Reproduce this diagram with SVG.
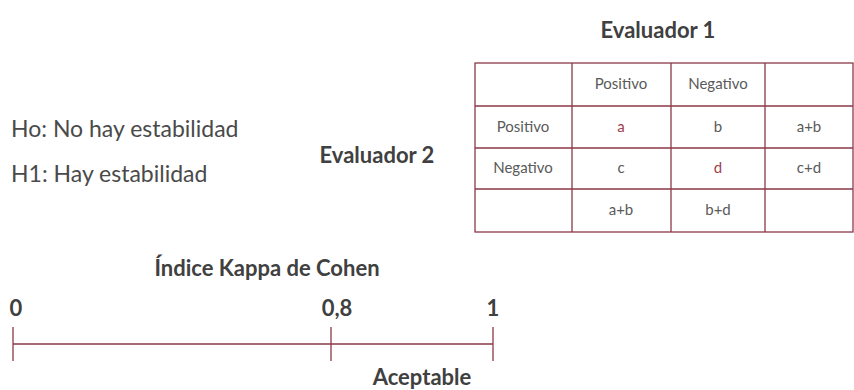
<svg xmlns="http://www.w3.org/2000/svg" width="854" height="390" viewBox="0 0 854 390">
<style>
text{font-family:Lato,"Open Sans","Liberation Sans",sans-serif;fill:#404040}
.b{font-weight:bold}
.t{font-size:22px}
.h{font-size:23px;fill:#4a4a4a}
.c{font-size:15px;fill:#5a5a5a;text-anchor:middle}
.r{fill:#a0404f}
.ln{stroke:#8b3a48;stroke-width:1.3;fill:none}
</style>
<rect width="854" height="390" fill="#fff"/>
<g id="evaluador1"><text class="b t" x="658" y="38" text-anchor="middle">Evaluador 1</text></g>
<g id="hypotheses">
<text class="h" x="11" y="137">Ho: No hay estabilidad</text>
<text class="h" x="11" y="182">H1: Hay estabilidad</text>
</g>
<g id="evaluador2"><text class="b t" x="377" y="163" text-anchor="middle">Evaluador 2</text></g>
<g id="table">
<rect class="ln" x="475" y="63" width="378" height="169"/>
<path class="ln" d="M572 63V232M671 63V232M765 63V232M475 106H853M475 148H853M475 189H853"/>
<text class="c" x="523" y="132">Positivo</text>
<text class="c" x="523" y="173">Negativo</text>
<text class="c" x="621" y="89">Positivo</text>
<text class="c" x="718" y="89">Negativo</text>
<text class="c r" x="621" y="132">a</text>
<text class="c" x="718" y="132">b</text>
<text class="c" x="809" y="132">a+b</text>
<text class="c" x="621" y="173">c</text>
<text class="c r" x="718" y="173">d</text>
<text class="c" x="809" y="173">c+d</text>
<text class="c" x="621" y="215">a+b</text>
<text class="c" x="718" y="215">b+d</text>
</g>
<g id="kappa">
<text class="b t" x="267" y="276" text-anchor="middle">Índice Kappa de Cohen</text>
<text class="b t" x="16" y="316" text-anchor="middle">0</text>
<text class="b t" x="337" y="316" text-anchor="middle">0,8</text>
<text class="b t" x="493" y="316" text-anchor="middle">1</text>
<path class="ln" d="M13 344H493M13 327V361M331 327V361M493 327V361"/>
<text class="b t" x="422" y="385" text-anchor="middle">Aceptable</text>
</g>
</svg>
